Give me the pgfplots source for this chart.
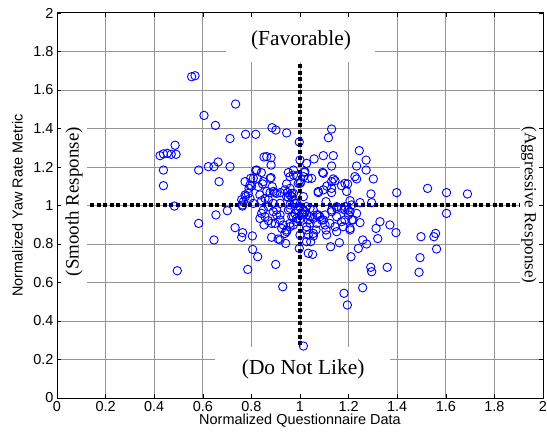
\documentclass[border=0pt]{standalone}
\usepackage{fontspec}
\setmainfont{Liberation Sans}
\newfontfamily\tnr{Liberation Serif}
\usepackage{pgfplots}
\pgfplotsset{compat=1.18}
\pgfplotstableread{
x y
0.554 1.669
0.568 1.674
0.735 1.527
0.605 1.468
0.652 1.416
0.885 1.404
0.901 1.392
0.945 1.377
0.776 1.370
0.818 1.370
0.712 1.348
0.997 1.330
0.486 1.313
0.424 1.259
0.438 1.268
0.454 1.271
0.470 1.266
0.490 1.266
0.852 1.252
0.881 1.248
0.881 1.210
1.000 1.236
0.438 1.184
0.583 1.184
0.623 1.202
0.646 1.202
0.663 1.226
0.712 1.202
0.667 1.124
0.438 1.103
0.818 1.183
0.841 1.171
0.881 1.145
0.952 1.171
0.973 1.158
0.986 1.153
1.020 1.176
0.774 1.124
0.797 1.141
0.824 1.141
0.801 1.101
0.790 1.089
0.846 1.112
0.886 1.098
0.877 1.067
0.897 1.067
0.918 1.067
0.945 1.112
0.949 1.067
0.959 1.089
1.000 1.115
1.034 1.141
0.776 1.046
0.760 1.030
0.787 1.063
0.856 1.037
0.842 1.025
0.870 1.029
0.959 1.055
0.952 1.042
1.014 1.046
0.973 1.029
0.483 0.997
0.763 0.997
0.701 0.973
0.654 0.951
0.583 0.907
0.733 0.885
0.764 0.859
0.760 0.835
0.646 0.821
0.804 0.842
0.805 0.772
0.826 0.734
0.495 0.661
0.785 0.668
0.900 0.694
0.929 0.578
0.764 1.003
0.849 0.977
0.842 0.959
0.856 0.942
0.835 0.933
0.870 0.921
0.883 0.907
0.852 0.899
0.890 0.968
0.904 0.951
0.918 0.925
0.931 0.899
0.945 0.873
0.938 0.855
0.959 0.890
0.973 0.899
0.986 0.933
0.979 0.959
0.959 0.985
1.000 0.994
1.014 0.977
1.027 0.951
1.034 0.925
1.027 0.890
1.034 0.847
1.027 0.812
1.034 0.752
1.000 0.847
0.997 0.777
0.918 0.821
0.883 0.835
0.910 0.826
0.941 0.803
1.130 1.397
1.117 1.352
1.244 1.285
1.096 1.259
1.137 1.259
1.058 1.242
1.272 1.236
1.233 1.205
1.130 1.205
1.027 1.219
1.018 1.172
1.093 1.172
1.272 1.184
1.048 1.141
1.137 1.138
1.130 1.124
1.144 1.129
1.233 1.138
1.302 1.138
1.196 1.112
1.171 1.103
1.110 1.101
1.130 1.089
1.075 1.067
1.130 1.067
1.398 1.067
1.525 1.089
1.603 1.067
1.689 1.060
1.292 1.060
1.206 1.025
1.247 1.015
1.295 1.015
1.107 1.020
1.151 0.994
1.185 0.994
1.213 1.003
1.027 0.994
1.041 0.985
1.603 0.959
1.329 0.916
1.313 0.881
1.370 0.899
1.395 0.859
1.320 0.828
1.498 0.838
1.558 0.855
1.551 0.838
1.562 0.774
1.494 0.729
1.490 0.653
1.359 0.679
1.291 0.679
1.295 0.656
1.258 0.821
1.274 0.800
1.240 0.777
1.210 0.734
1.162 0.807
1.126 0.786
1.052 0.746
1.258 0.573
1.181 0.544
1.195 0.483
1.044 0.812
1.055 0.842
1.066 0.873
1.107 0.873
1.144 0.890
1.178 0.890
1.206 0.873
1.247 0.911
1.213 0.925
1.185 0.925
1.198 0.977
1.206 0.968
1.103 0.951
1.082 0.942
1.069 0.951
1.055 0.933
1.123 0.907
1.096 0.925
1.041 0.907
1.021 0.968
1.014 0.951
1.151 0.985
1.171 0.985
1.130 0.977
1.096 1.081
1.014 0.270
0.904 1.063
0.938 1.081
0.945 1.046
0.973 1.063
0.959 1.150
1.014 1.150
1.096 1.167
1.075 1.073
1.185 1.115
1.192 1.073
1.226 1.150
0.904 0.977
0.918 0.951
0.897 0.907
0.925 0.881
0.945 0.864
0.952 0.977
0.966 0.942
0.986 0.916
0.959 0.907
1.007 0.959
1.041 0.942
1.055 0.977
1.075 0.951
1.089 0.925
1.069 0.907
1.103 0.899
1.130 0.968
1.151 0.942
1.171 0.916
1.185 0.977
1.199 0.951
1.219 0.925
1.233 0.959
1.027 0.873
1.055 0.855
1.110 0.847
1.151 0.864
1.206 0.881
0.863 1.254
0.822 1.184
0.808 1.141
0.849 1.124
0.877 1.141
0.794 1.106
0.828 1.098
0.863 1.073
0.774 1.055
0.794 1.037
0.835 1.055
0.890 1.073
0.993 1.115
0.966 1.046
0.767 1.020
0.808 1.011
0.870 0.994
0.890 1.011
0.918 1.011
0.959 1.003
0.986 1.011
0.973 1.184
0.966 1.063
0.979 1.011
0.993 0.977
0.973 0.942
1.003 1.120
1.000 0.930
}\pts
\begin{document}
\begin{tikzpicture}
\begin{axis}[name=ax, scale only axis, width=486bp, height=385bp,
 xmin=0, xmax=2, ymin=0, ymax=2,
 xtick={0,0.2,0.4,0.6,0.8,1,1.2,1.4,1.6,1.8,2},
 ytick={0,0.2,0.4,0.6,0.8,1,1.2,1.4,1.6,1.8,2},
 tick align=inside, major tick length=4bp,
 tick style={black, line width=0.6bp},
 axis line style={black, line width=1bp},
 axis on top, clip=false,
 ticklabel style={font=\fontsize{14.5}{17}\selectfont},
 /pgf/number format/assume math mode=true,
 label style={font=\fontsize{14.5}{17}\selectfont},
 xlabel={Normalized Questionnaire Data},
 ylabel={Normalized Yaw Rate Metric},
 xlabel style={at={(axis description cs:0.5,-0.0597)}, anchor=center},
 ylabel style={at={(axis description cs:-0.0813,0.5)}, anchor=center},
]
\pgfplotsinvokeforeach{0.2,0.4,0.6,0.8,1,1.2,1.4,1.6,1.8}{
 \draw[black!42, line width=0.7bp] (axis cs:#1,0) -- (axis cs:#1,2);
 \draw[black!42, line width=0.7bp] (axis cs:0,#1) -- (axis cs:2,#1);
}
\addplot[only marks, mark=o, mark size=4.2bp, mark options={draw=blue, line width=0.9bp}] table[x=x, y=y] {\pts};
\addplot[black, line width=4bp, dash pattern=on 4bp off 2.6bp, forget plot] coordinates {(0,1) (2,1)};
\addplot[black, line width=4bp, dash pattern=on 4bp off 2.6bp, forget plot] coordinates {(1,0) (1,2)};
\fill[white] (axis cs:0.695,1.745) rectangle (axis cs:1.309,2);
\node[font=\tnr\fontsize{21.5}{24}\selectfont] at (axis cs:1.004,1.86) {(Favorable)};
\fill[white] (axis cs:0.65,0) rectangle (axis cs:1.37,0.265);
\node[font=\tnr\fontsize{21.5}{24}\selectfont] at (axis cs:1.013,0.15) {(Do Not Like)};
\fill[white] (axis cs:0,0.55) rectangle (axis cs:0.122,1.47);
\node[font=\tnr\fontsize{19}{22}\selectfont, rotate=90] at (axis cs:0.07,1.02) {(Smooth Response)};
\fill[white] (axis cs:1.905,0.55) rectangle (axis cs:2,1.46);
\node[font=\tnr\fontsize{17}{20}\selectfont, rotate=-90] at (axis cs:1.942,1.003) {(Aggressive Response)};
\end{axis}
\pgfresetboundingbox
\path[use as bounding box] ([xshift=-57bp,yshift=-34bp]ax.south west) rectangle ([xshift=4bp,yshift=13bp]ax.north east);
\end{tikzpicture}
\end{document}
